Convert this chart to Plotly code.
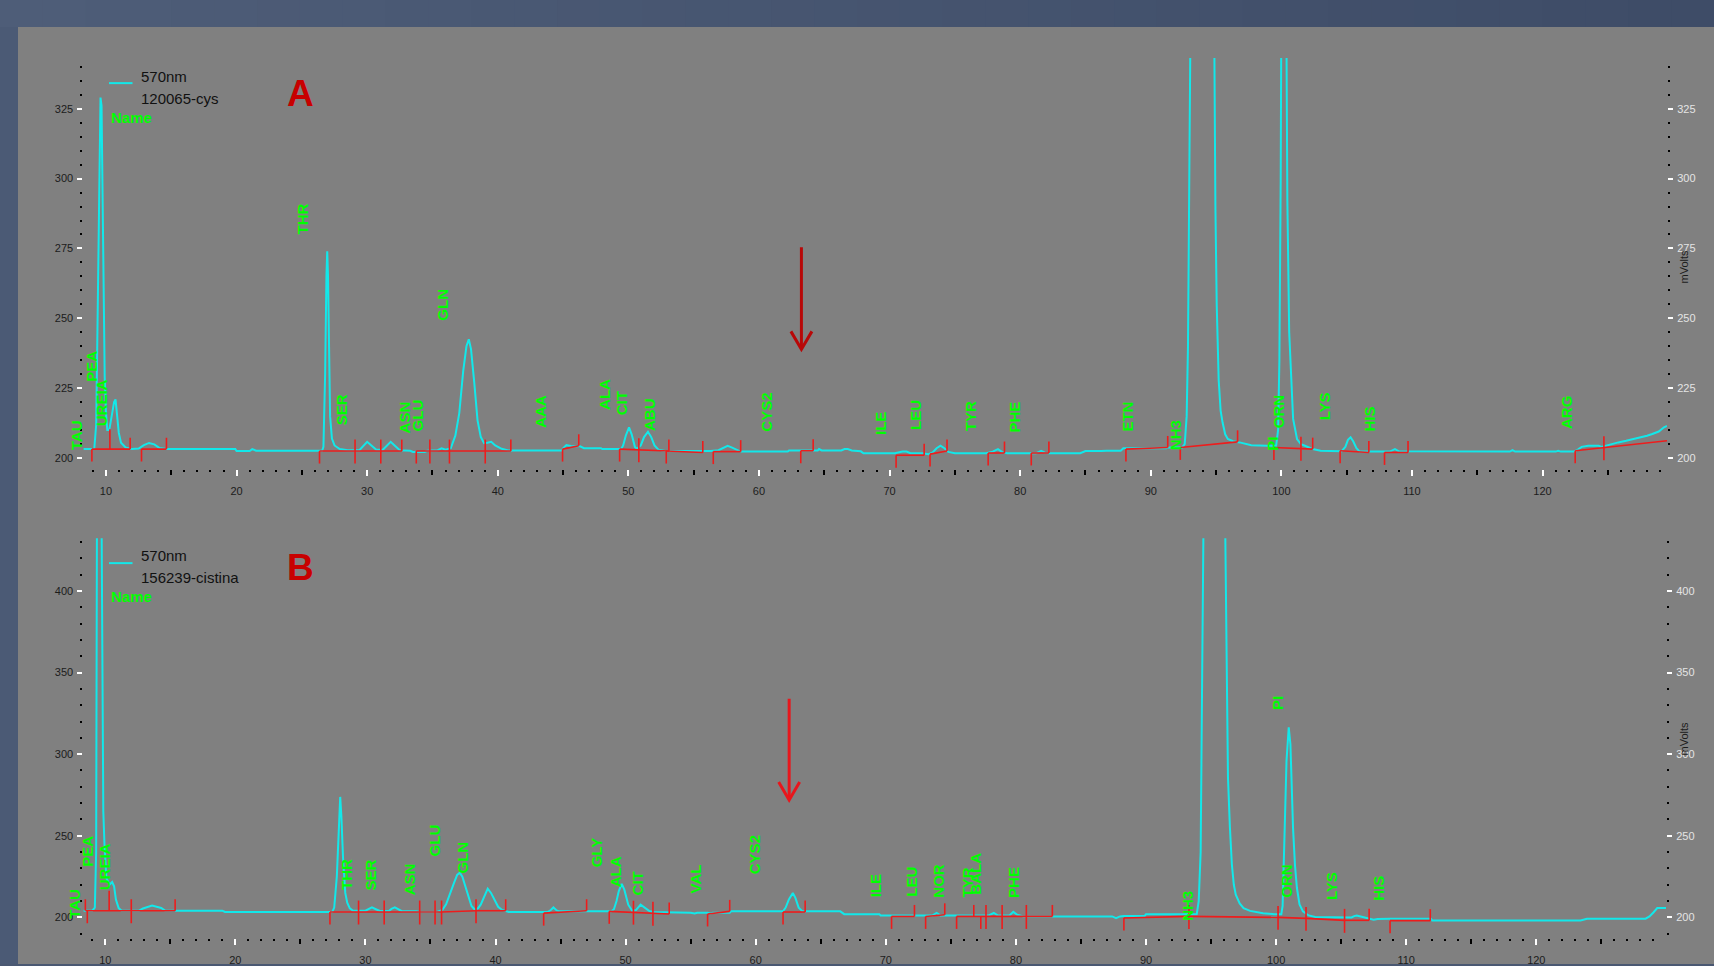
import plotly.graph_objects as go

W, H = 1714, 966

# ------------------------------------------------------------------ DATA
# Panel A : 570nm, sample 120065-cys   (time in minutes, signal in mVolts)
A_time = [8.27, 9.10, 9.25, 9.38, 9.50, 9.58, 9.66, 9.74, 9.82, 9.90, 10.00, 10.10, 10.25, 10.45,
          10.62, 10.73, 10.85, 10.98, 11.15, 11.5, 12.0, 12.5, 12.9, 13.3, 13.7, 14.1, 14.6, 19.9,
          20.0, 21.0, 21.2, 21.5, 22.2, 26.55, 26.65, 26.78, 26.88, 26.94, 27.0, 27.08, 27.16, 27.3,
          27.5, 27.9, 28.5, 29.4, 29.7, 30.0, 30.3, 30.7, 31.2, 31.5, 31.8, 32.1, 32.5, 33.3, 33.5,
          34.4, 34.6, 35.4, 35.7, 36.0, 36.4, 36.75, 37.05, 37.35, 37.6, 37.78, 37.95, 38.2, 38.45,
          38.7, 38.95, 39.2, 39.5, 39.8, 40.3, 40.8, 44.9, 45.0, 45.25, 45.6, 46.3, 46.6, 47.9, 48.0,
          49.45, 49.6, 49.8, 50.05, 50.25, 50.5, 50.65, 50.95, 51.2, 51.5, 51.75, 52.0, 52.3, 52.8,
          56.3, 56.9, 57.3, 57.6, 57.9, 58.3, 58.6, 62.2, 62.3, 64.5, 64.6, 64.8, 66.3, 66.55, 66.8,
          67.1, 67.8, 68.0, 70.4, 71.0, 71.3, 71.6, 72.5, 73.0, 73.3, 73.6, 73.9, 74.2, 74.5, 75.0,
          77.4, 77.9, 78.3, 78.6, 79.0, 81.2, 81.6, 81.9, 82.2, 84.6, 85.0, 86.2, 86.6, 87.7, 87.9,
          88.9, 91.2, 91.3, 92.4, 92.6, 92.75, 92.85, 92.95, 93.05, 93.95, 94.85, 94.95, 95.05, 95.2,
          95.35, 95.5, 95.7, 95.9, 96.3, 96.8, 97.7, 98.9, 99.6, 99.75, 99.85, 99.95, 100.0, 100.2,
          100.38, 100.46, 100.6, 100.75, 100.9, 101.2, 101.5, 101.8, 102.4, 103.0, 104.6, 104.9,
          105.1, 105.3, 105.5, 105.75, 106.0, 108.3, 108.7, 109.0, 117.5, 117.7, 117.9, 121.0, 121.2,
          121.4, 122.4, 122.7, 123.0, 123.5, 124.3, 124.5, 125.2, 125.8, 126.4, 127.0, 127.6, 128.0,
          128.4, 128.9, 129.3, 129.53]
A_mv = [203.2, 203.2, 212, 265, 315, 329.0, 326, 290, 250, 229, 216, 210, 210, 215,
        220, 221, 216, 209, 205.5, 203.8, 203.2, 203.4, 204.6, 205.4, 204.9, 203.6, 203.2, 203.2,
        202.5, 202.5, 203.2, 202.6, 202.6, 202.6, 204, 230, 265, 274, 265, 235, 215, 207,
        204.5, 203.2, 202.8, 202.8, 204.5, 205.8, 204.6, 203, 203, 204.6, 205.8, 204.5, 202.8, 202.6, 202.2,
        202.2, 202.6, 202.8, 203.5, 203, 203.5, 208, 216, 231, 240, 242.5, 239, 227, 213.5,
        207.5, 205.3, 205.5, 205.8, 204.5, 203.3, 202.7, 202.7, 203.5, 204.6, 204.3, 204.2, 203.5, 203.5, 203.2,
        203.2, 204.5, 208, 211, 208.5, 204, 203.3, 204.5, 207.5, 209.4, 207.5, 204.5, 203, 202.5,
        202.5, 202.8, 203.8, 204.4, 203.8, 202.8, 202.3, 202.3, 202.7, 202.7, 203.2, 202.7, 202.7, 203.2, 203.2,
        202.7, 202.4, 201.7, 201.7, 202.3, 202.3, 201.7, 201.7, 201.4, 202.0, 203.5, 204.4, 203.5, 202.2, 201.7,
        201.7, 202.3, 203.2, 202.2, 201.7, 201.7, 202.6, 201.9, 201.7, 201.7, 202.5, 202.5, 202.6, 202.6, 203.5,
        203.5, 203.5, 203.8, 203.8, 205, 215, 240, 300, 360, 600, 360, 290, 255, 228,
        217, 212.7, 208.5, 206.8, 206, 205.6, 204.6, 204.4, 204.4, 210, 235, 300, 360, 600,
        360, 292, 245, 227, 214, 206.8, 205, 204.4, 203.2, 202.6, 202.4, 204.0,
        206.5, 207.4, 206.0, 203.5, 202.3, 202.3, 203.2, 202.4, 202.3, 202.8, 202.3, 202.3, 202.6,
        202.3, 202.3, 203, 204, 204.4, 204.4, 204.0, 205, 205.6, 206.2, 206.8, 207.4, 208,
        208.6, 209.5, 211, 211.5]

# Panel B : 570nm, sample 156239-cistina
B_time = [8.32, 9.0, 9.2, 9.3, 9.36, 9.55, 9.72, 9.78, 9.85, 9.94, 10.09, 10.32, 10.53, 10.68,
          10.82, 11.03, 11.26, 12.6, 12.9, 13.6, 14.3, 14.6, 15.4, 19.0, 19.2, 27.45, 27.6, 27.8,
          27.95, 28.06, 28.15, 28.28, 28.45, 28.6, 28.8, 29.05, 30.0, 30.25, 30.5, 30.8, 31.1, 31.8,
          32.0, 32.26, 32.5, 32.8, 33.9, 34.2, 35.5, 35.9, 36.2, 36.5, 36.8, 37.05, 37.25, 37.45,
          37.7, 37.92, 38.15, 38.42, 38.65, 38.86, 39.1, 39.4, 39.65, 39.9, 40.2, 40.48, 40.9, 41.0,
          44.0, 44.25, 44.45, 44.7, 44.9, 48.9, 49.1, 49.3, 49.47, 49.7, 49.9, 50.05, 50.2, 50.5,
          50.8, 51.15, 51.45, 51.8, 52.1, 53.4, 53.6, 55.0, 55.3, 55.5, 56.3, 56.5, 56.7, 58.0, 58.1,
          62.1, 62.3, 62.55, 62.85, 63.05, 63.3, 63.6, 66.5, 66.8, 69.5, 69.6, 73.6, 73.9, 74.2,
          77.9, 78.3, 78.6, 79.5, 79.8, 80.1, 80.6, 87.4, 87.7, 88.0, 88.3, 89.9, 90.0, 93.9, 94.05,
          94.2, 94.3, 94.4, 94.45, 95.2, 96.05, 96.1, 96.2, 96.3, 96.45, 96.6, 96.75, 96.9, 97.2,
          97.5, 98.0, 98.4, 99.0, 99.85, 100.4, 100.5, 100.65, 100.8, 100.97, 101.1, 101.3, 101.45,
          101.6, 101.8, 102.06, 102.5, 103.0, 105.8, 106.0, 106.2, 106.5, 107.0, 107.5, 107.8, 108.7,
          111.9, 112.0, 123.4, 123.9, 128.4, 128.7, 129.0, 129.3, 129.97]
B_mv = [204.1, 204.1, 206, 240, 440, 560, 440, 320, 265, 244.7, 224, 220, 221.7, 219,
        210.9, 205.7, 204.1, 204.1, 205.5, 207.2, 205.8, 204.2, 204.1, 204.1, 203.3, 203.3, 206, 225,
        255, 273.8, 262, 236, 215, 209, 205.5, 204.1, 204.1, 205.3, 206.1, 205, 203.9, 203.9,
        205.2, 206.1, 205, 203.8, 203.8, 203.3, 203.3, 204.5, 208, 213.9, 221, 226, 227.3, 225,
        218, 211.9, 207, 204.7, 205.5, 207.8, 212.5, 217.6, 215, 210.9, 206.5, 204.7, 203.7, 203.3,
        203.3, 204.5, 206.1, 204.3, 203.7, 203.7, 205, 210, 216, 220.5, 217, 212, 207.8, 204.1,
        204.5, 207.8, 206, 204, 203.3, 203.3, 202.9, 202.9, 202.4, 202.9, 202.9, 202.4, 202.9, 202.9, 203.7,
        203.7, 206, 211, 215, 212, 206, 203.7, 203.7, 202, 202, 201.2, 201.2, 202.7, 201.2,
        201.2, 202.7, 201.2, 201.2, 203.4, 201.6, 200.6, 200.6, 199.6, 200.6, 200.9, 200.9, 202, 202, 210,
        240, 330, 430, 470, 700, 470, 430, 330, 285.7, 255, 232.4, 220, 213.9, 208.5,
        205.7, 204, 203.3, 202.5, 202, 202, 207, 244.7, 295.9, 316.4, 306, 255, 232,
        218, 208, 203.7, 201.2, 200.2, 200, 200.8, 201.2, 200.6, 199.8, 198.6, 199.0, 199.2,
        199.2, 198.1, 198.1, 199.2, 199.2, 200.6, 203, 205.7, 205.7]

# integration baselines (t0, v0, t1, v1) and their tick marks (t, v, kind)
A_seg = [(8.92, 203.2, 11.85, 203.2), (12.72, 203.2, 14.63, 203.2), (26.35, 202.5, 32.65, 202.5),
         (33.76, 202.5, 41.0, 202.5), (44.96, 203.2, 46.2, 204.4), (49.33, 203.2, 53.1, 202.5),
         (52.9, 202.5, 55.7, 202.0), (56.5, 202.3, 58.6, 202.3), (63.2, 202.6, 64.15, 202.6),
         (70.5, 201.0, 72.65, 201.0), (73.1, 201.4, 74.4, 202.5), (77.55, 201.8, 78.8, 201.8),
         (80.85, 201.8, 82.2, 201.8), (88.1, 203.2, 91.3, 203.8), (92.26, 203.8, 96.65, 205.8),
         (99.43, 203.8, 102.4, 203.2), (104.5, 202.6, 106.7, 202.0), (107.9, 202.0, 109.7, 202.0),
         (122.5, 202.6, 129.53, 206.2)]
A_marks = [(8.92, 203.2, 'd'), (10.3, 203.2, 'U'), (11.85, 203.2, 'u'), (12.72, 203.2, 'd'),
           (14.63, 203.2, 'u'), (26.35, 202.5, 'd'), (29.07, 202.5, 'x'), (31.04, 202.5, 'x'),
           (32.65, 202.5, 'u'), (33.76, 202.5, 'd'), (34.8, 202.5, 'x'), (36.3, 202.5, 'x'),
           (39.04, 202.5, 'x'), (41.0, 202.5, 'u'), (44.96, 203.2, 'd'), (46.2, 204.4, 'u'),
           (49.33, 203.2, 'd'), (50.8, 203.0, 'x'), (53.1, 202.5, 'u'), (52.9, 202.5, 'd'),
           (55.7, 202.0, 'u'), (56.5, 202.3, 'd'), (58.6, 202.3, 'u'), (63.2, 202.6, 'd'),
           (64.15, 202.6, 'u'), (70.5, 201.0, 'd'), (72.65, 201.0, 'u'), (73.1, 201.4, 'd'),
           (74.4, 202.5, 'u'), (77.55, 201.8, 'd'), (78.8, 201.8, 'u'), (80.85, 201.8, 'd'),
           (82.2, 201.8, 'u'), (88.1, 203.2, 'd'), (91.3, 203.8, 'u'), (92.26, 203.8, 'd'),
           (96.65, 205.8, 'u'), (99.43, 203.8, 'd'), (101.5, 203.5, 'x'), (102.4, 203.2, 'u'),
           (104.5, 202.6, 'd'), (106.7, 202.0, 'u'), (107.9, 202.0, 'd'), (109.7, 202.0, 'u'),
           (122.5, 202.6, 'd'), (124.7, 203.7, 'x')]

B_seg = [(8.5, 204.1, 15.37, 204.1), (27.27, 203.3, 35.85, 203.3), (35.85, 203.3, 38.5, 204.1),
         (38.5, 204.1, 40.78, 204.1), (43.7, 202.6, 47.0, 204.1), (48.74, 203.7, 53.35, 202.1),
         (56.3, 202.1, 58.0, 203.7), (62.1, 203.3, 63.8, 203.3), (70.44, 200.6, 72.2, 200.6),
         (73.06, 200.6, 74.53, 201.6), (75.44, 200.6, 82.8, 200.6), (88.3, 199.6, 93.3, 200.6),
         (93.3, 200.6, 100.15, 200.0), (100.15, 200.0, 102.3, 199.4), (102.3, 199.4, 105.26, 198.2),
         (105.26, 198.2, 107.15, 198.2), (108.76, 198.0, 111.85, 198.0)]
B_marks = [(8.47, 204.1, 'u'), (8.62, 204.1, 'd'), (10.3, 204.1, 'U'), (12.0, 204.1, 'x'),
           (15.37, 204.1, 'u'), (27.27, 203.3, 'd'), (29.47, 203.3, 'x'), (31.44, 203.3, 'x'),
           (34.17, 203.3, 'x'), (35.35, 203.3, 'x'), (35.85, 203.3, 'x'), (38.5, 204.1, 'x'),
           (40.78, 204.1, 'u'), (43.7, 202.6, 'd'), (47.0, 204.1, 'u'), (48.74, 203.7, 'd'),
           (50.6, 203.2, 'x'), (52.1, 202.6, 'x'), (53.35, 202.1, 'u'), (56.3, 202.1, 'd'),
           (58.0, 203.7, 'u'), (62.1, 203.3, 'd'), (63.8, 203.3, 'u'), (70.44, 200.6, 'd'),
           (72.2, 200.6, 'u'), (73.06, 200.6, 'd'), (74.53, 201.6, 'u'), (75.44, 200.6, 'd'),
           (76.76, 200.6, 'u'), (77.3, 200.6, 'd'), (77.7, 200.6, 'x'), (78.94, 200.6, 'x'),
           (80.8, 200.6, 'x'), (82.8, 200.6, 'u'), (88.3, 199.6, 'd'), (93.3, 200.6, 'x'),
           (100.15, 200.0, 'x'), (102.3, 199.4, 'x'), (105.26, 198.2, 'x'), (107.15, 198.2, 'u'),
           (108.76, 198.0, 'd'), (111.85, 198.0, 'u')]

# peak names (name, time, mV at the foot of the label)
A_labels = [("TAU", 7.74, 202.6), ("PEA", 8.83, 227.0), ("UREIA", 9.65, 211.0), ("THR", 25.03, 279.6),
            ("SER", 28.1, 211.3), ("ASN", 32.85, 208.6), ("GLU", 33.82, 209.2), ("GLN", 35.78, 248.7),
            ("AAA", 43.26, 210.4), ("ALA", 48.18, 216.9), ("CIT", 49.47, 215.1), ("ABU", 51.67, 209.2),
            ("CYS2", 60.6, 209.2), ("ILE", 69.25, 208.0), ("LEU", 71.97, 209.8), ("TYR", 76.22, 209.2),
            ("PHE", 79.53, 208.6), ("ETN", 88.2, 209.2), ("NH3", 91.9, 202.3), ("PI", 99.3, 202.3),
            ("ORN", 99.8, 210.4), ("LYS", 103.3, 213.3), ("HIS", 106.76, 209.2), ("ARG", 121.85, 210.1)]
B_labels = [("TAU", 7.68, 198.6), ("PEA", 8.62, 230.3), ("UREIA", 9.94, 216.0), ("THR", 28.6, 216.0),
            ("SER", 30.35, 215.6), ("ASN", 33.35, 212.9), ("GLU", 35.29, 236.9), ("GLN", 37.49, 226.2),
            ("GLY", 47.79, 230.3), ("ALA", 49.24, 218.0), ("CIT", 50.88, 212.9), ("VAL", 55.35, 213.9),
            ("CYS2", 59.9, 225.8), ("ILE", 69.18, 211.5), ("LEU", 71.97, 212.3), ("NOR", 74.09, 211.5),
            ("TYR", 76.3, 211.5), ("BALA", 76.88, 213.5), ("PHE", 79.76, 211.5), ("NH3", 93.18, 197.5),
            ("PI", 100.09, 326.6), ("ORN", 100.8, 211.5), ("LYS", 104.26, 209.8), ("HIS", 107.85, 209.4)]

# marker arrows (time, mV tail, mV tip)
A_arrow = (63.25, 275.4, 238.9)
B_arrow = (62.57, 334.0, 271.9)

A_legend = ["570nm", "120065-cys"]
B_legend = ["570nm", "156239-cistina"]

# ------------------------------------------------------------------ GEOMETRY / STYLE
PL, PR_A, PR_B = 83.4, 1667.0, 1666.0
A_TOP, A_BOT = 58.0, 470.0
B_TOP, B_BOT = 539.3, 940.0
A_XR, A_YR = [8.27, 129.53], [196.07, 343.2]
B_XR, B_YR = [8.32, 129.97], [187.35, 432.3]

CYAN = "#12e8ea"
RED = "#ee1c1c"
GREEN = "#00ff00"
DARK = "#1c1c1c"
FONT = "Liberation Sans"
TICK_UP, TICK_TALL, TICK_DN = 11.5, 20.0, 12.5


def fx(px):
    return px / W


def fy(py):
    return 1 - py / H


def ppu(top, bot, yr):
    return (bot - top) / (yr[1] - yr[0])


def integ(segs, marks, k):
    xs, ys = [], []
    for t0, v0, t1, v1 in segs:
        xs += [t0, t1, None]
        ys += [v0, v1, None]
    for t, v, kind in marks:
        up = {'d': 0, 'u': TICK_UP, 'U': TICK_TALL, 'x': TICK_UP}[kind]
        dn = {'d': TICK_DN, 'u': 0, 'U': 0, 'x': TICK_DN}[kind]
        xs += [t, t, None]
        ys += [v + up / k, v - dn / k, None]
    return xs, ys


fig = go.Figure()

kA = ppu(A_TOP, A_BOT, A_YR)
kB = ppu(B_TOP, B_BOT, B_YR)

fig.add_trace(go.Scatter(x=A_time, y=A_mv, mode="lines", line=dict(color=CYAN, width=2),
                         xaxis="x", yaxis="y", hoverinfo="skip", showlegend=False))
xs, ys = integ(A_seg, A_marks, kA)
fig.add_trace(go.Scatter(x=xs, y=ys, mode="lines", line=dict(color=RED, width=1.6),
                         xaxis="x", yaxis="y", hoverinfo="skip", showlegend=False))
fig.add_trace(go.Scatter(x=B_time, y=B_mv, mode="lines", line=dict(color=CYAN, width=2),
                         xaxis="x2", yaxis="y2", hoverinfo="skip", showlegend=False))
xs, ys = integ(B_seg, B_marks, kB)
fig.add_trace(go.Scatter(x=xs, y=ys, mode="lines", line=dict(color=RED, width=1.6),
                         xaxis="x2", yaxis="y2", hoverinfo="skip", showlegend=False))
# empty traces so that the overlay axes (right mV scale, 5-min ticks) get drawn
for xa, ya in (("x", "y3"), ("x5", "y"), ("x2", "y4"), ("x6", "y2")):
    fig.add_trace(go.Scatter(x=[], y=[], xaxis=xa, yaxis=ya, hoverinfo="skip", showlegend=False))

shapes = []
# background: blue-grey frame with gradient top band, grey panel
c0, c1 = (78, 93, 120), (62, 76, 103)
N = 40
for i in range(N):
    f = i / (N - 1)
    col = "rgb(%d,%d,%d)" % tuple(round(a + (b - a) * f) for a, b in zip(c0, c1))
    shapes.append(dict(type="rect", xref="paper", yref="paper", x0=i / N, x1=(i + 1) / N + 0.002,
                       y0=fy(27), y1=1, fillcolor=col, line=dict(width=0), layer="below"))
shapes.append(dict(type="rect", xref="paper", yref="paper", x0=0, x1=fx(18), y0=0, y1=fy(27),
                   fillcolor="rgb(75,90,117)", line=dict(width=0), layer="below"))
shapes.append(dict(type="rect", xref="paper", yref="paper", x0=fx(18), x1=1, y0=0, y1=fy(27),
                   fillcolor="#808080", line=dict(width=0), layer="below"))


def arrow(ar, xref, yref, xpu, k, col):
    t, v0, v1 = ar
    dx = 10.5 / xpu
    dh = 18.0 / k
    shapes.append(dict(type="line", xref=xref, yref=yref, x0=t, x1=t, y0=v0, y1=v1 + 1 / k,
                       line=dict(color=col, width=3)))
    shapes.append(dict(type="path", xref=xref, yref=yref,
                       path="M %f,%f L %f,%f L %f,%f" % (t - dx, v1 + dh, t, v1, t + dx, v1 + dh),
                       line=dict(color=col, width=3)))


arrow(A_arrow, "x", "y", (PR_A - PL) / (A_XR[1] - A_XR[0]), kA, "#b80808")
arrow(B_arrow, "x2", "y2", (PR_B - PL) / (B_XR[1] - B_XR[0]), kB, "#e8161c")

# legend line samples
for ly in (83.3, 564.3):
    shapes.append(dict(type="line", xref="paper", yref="paper", x0=fx(109), x1=fx(132.5),
                       y0=fy(ly), y1=fy(ly), line=dict(color=CYAN, width=2)))

ann = []


def peak_labels(labels, xref, yref, xr, xpu):
    for name, t, v in labels:
        shift = 0
        if t < xr[0] + 0.05:
            shift = (t - (xr[0] + 0.05)) * xpu
            t = xr[0] + 0.05
        ann.append(dict(text="<b>%s</b>" % name, x=t, y=v, xref=xref, yref=yref, xshift=shift,
                        xanchor="center", yanchor="bottom", textangle=-90, showarrow=False,
                        borderpad=0, font=dict(family=FONT, size=15, color=GREEN)))


peak_labels(A_labels, "x", "y", A_XR, (PR_A - PL) / (A_XR[1] - A_XR[0]))
peak_labels(B_labels, "x2", "y2", B_XR, (PR_B - PL) / (B_XR[1] - B_XR[0]))


def ptext(txt, x, y, size, color, xanchor="left", bold=False, angle=0):
    ann.append(dict(text=("<b>%s</b>" % txt) if bold else txt, x=fx(x), y=fy(y), xref="paper",
                    yref="paper", xanchor=xanchor, yanchor="middle", showarrow=False, textangle=angle,
                    borderpad=0, font=dict(family=FONT, size=size, color=color)))


for base, leg, letter in ((0, A_legend, "A"), (480, B_legend, "B")):
    ptext(leg[0], 139.5, 76.5 if base == 0 else 556.7, 15, "#111111")
    ptext(leg[1], 139.5, 99.0 if base == 0 else 579.0, 15, "#111111")
    ptext("Name", 109.5, 118.0 if base == 0 else 598.0, 15, GREEN, bold=True)
    ptext(letter, 300, 93.5 if base == 0 else 569.0, 37, "#c80000", xanchor="center", bold=True)
ptext("mVolts", 1684, 267, 11, DARK, xanchor="center", angle=-90)
ptext("mVolts", 1684, 740, 11, DARK, xanchor="center", angle=-90)

common_x = dict(showgrid=False, zeroline=False, showline=False, ticks="outside", ticklen=6,
                tickwidth=2, tickcolor="white", tick0=0, dtick=10,
                tickfont=dict(family=FONT, size=11, color=DARK), ticklabelstandoff=6,
                minor=dict(ticks="outside", ticklen=2, tickwidth=2, tickcolor="black", tick0=0, dtick=1))
five_x = dict(showgrid=False, zeroline=False, showline=False, ticks="outside", ticklen=5,
              tickwidth=1.5, tickcolor="black", tickmode="array",
              tickvals=[15, 25, 35, 45, 55, 65, 75, 85, 95, 105, 115, 125], showticklabels=False)
common_y = dict(showgrid=False, zeroline=False, showline=False, ticks="outside", ticklen=5,
                tickwidth=2, tickcolor="white", tick0=0,
                tickfont=dict(family=FONT, size=11, color=DARK), ticklabelstandoff=2)

dxA = [fx(PL), fx(PR_A)]
dxB = [fx(PL), fx(PR_B)]
fig.update_layout(
    width=W, height=H, autosize=False, margin=dict(l=0, r=0, t=0, b=0),
    paper_bgcolor="rgb(74,88,114)", plot_bgcolor="rgba(0,0,0,0)",
    font=dict(family=FONT), showlegend=False, shapes=shapes, annotations=ann,
    xaxis=dict(common_x, domain=dxA, range=A_XR, anchor="y"),
    xaxis5=dict(five_x, range=A_XR, anchor="y", overlaying="x", side="bottom"),
    yaxis=dict(common_y, domain=[fy(A_BOT), fy(A_TOP)], range=A_YR, anchor="x", dtick=25,
               minor=dict(ticks="outside", ticklen=2, tickwidth=2, tickcolor="black", tick0=0, dtick=5)),
    yaxis3=dict(common_y, range=A_YR, anchor="x", overlaying="y", side="right", dtick=25,
                tickfont=dict(family=FONT, size=11, color="#e4e4e4"),
                minor=dict(ticks="outside", ticklen=2, tickwidth=2, tickcolor="black", tick0=0, dtick=5)),
    xaxis2=dict(common_x, domain=dxB, range=B_XR, anchor="y2"),
    xaxis6=dict(five_x, range=B_XR, anchor="y2", overlaying="x2", side="bottom"),
    yaxis2=dict(common_y, domain=[fy(B_BOT), fy(B_TOP)], range=B_YR, anchor="x2", dtick=50,
                minor=dict(ticks="outside", ticklen=2, tickwidth=2, tickcolor="black", tick0=0, dtick=10)),
    yaxis4=dict(common_y, range=B_YR, anchor="x2", overlaying="y2", side="right", dtick=50,
                tickfont=dict(family=FONT, size=11, color="#e4e4e4"),
                minor=dict(ticks="outside", ticklen=2, tickwidth=2, tickcolor="black", tick0=0, dtick=10)),
)

fig.write_html("out.html", config={"displayModeBar": False},
               post_script="document.body.style.margin='0';document.body.style.overflow='hidden';")
